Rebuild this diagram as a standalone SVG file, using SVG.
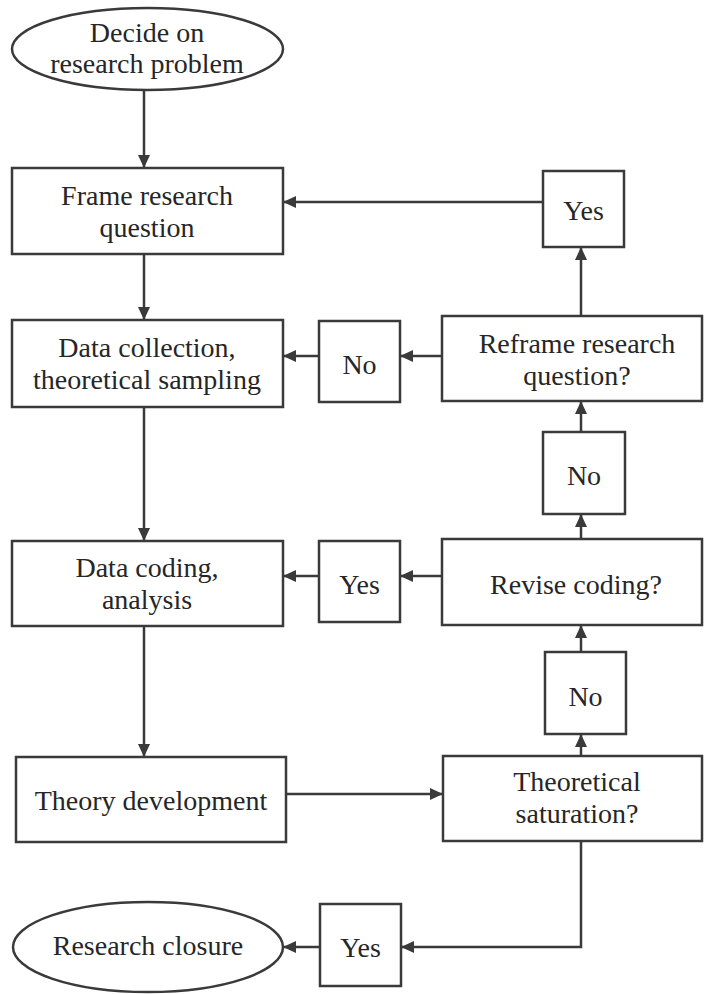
<svg xmlns="http://www.w3.org/2000/svg" width="704" height="994" viewBox="0 0 704 994">
<defs>
<style>
.n{fill:#fff;stroke:#3a3a3a;stroke-width:2.5}
.t{font-family:"Liberation Serif","Times New Roman",serif;font-size:28px;fill:#262626;text-anchor:middle}
.c{fill:none;stroke:#3a3a3a;stroke-width:2.5;marker-end:url(#a)}
</style>
<marker id="a" markerUnits="userSpaceOnUse" markerWidth="14" markerHeight="12" refX="13" refY="6" orient="auto">
<path d="M0,0 L13,6 L0,12 Z" fill="#3a3a3a"/>
</marker>
</defs>
<rect width="704" height="994" fill="#fff"/>
<g id="connectors">
<line class="c" x1="144" y1="90" x2="144" y2="168"/>
<line class="c" x1="543" y1="202" x2="283" y2="202"/>
<line class="c" x1="144" y1="254" x2="144" y2="320"/>
<line class="c" x1="581" y1="316" x2="581" y2="247"/>
<line class="c" x1="442" y1="356" x2="400" y2="356"/>
<line class="c" x1="319" y1="356" x2="283" y2="356"/>
<line class="c" x1="581" y1="432" x2="581" y2="401"/>
<line class="c" x1="144" y1="407" x2="144" y2="541"/>
<line class="c" x1="581" y1="539" x2="581" y2="514"/>
<line class="c" x1="442" y1="576" x2="400" y2="576"/>
<line class="c" x1="319" y1="576" x2="283" y2="576"/>
<line class="c" x1="581" y1="652" x2="581" y2="625"/>
<line class="c" x1="144" y1="626" x2="144" y2="757"/>
<line class="c" x1="286" y1="794" x2="443" y2="794"/>
<line class="c" x1="581" y1="756" x2="581" y2="734"/>
<path class="c" d="M581,841 V947 H401"/>
<line class="c" x1="320" y1="947" x2="283" y2="947"/>
</g>
<g id="decide">
<ellipse class="n" cx="147.5" cy="49" rx="135.5" ry="41"/>
<text class="t" x="147" y="42">Decide on</text>
<text class="t" x="147" y="73">research problem</text>
</g>
<g id="frame">
<rect class="n" x="12" y="168" width="271" height="86"/>
<text class="t" x="147" y="205">Frame research</text>
<text class="t" x="147" y="237">question</text>
</g>
<g id="yes-reframe">
<rect class="n" x="543" y="171" width="81" height="76"/>
<text class="t" x="583.5" y="220">Yes</text>
</g>
<g id="collection">
<rect class="n" x="12" y="320" width="271" height="87"/>
<text class="t" x="147" y="357">Data collection,</text>
<text class="t" x="147" y="389">theoretical sampling</text>
</g>
<g id="no-reframe">
<rect class="n" x="319" y="321" width="81" height="81"/>
<text class="t" x="359.5" y="374">No</text>
</g>
<g id="reframe">
<rect class="n" x="442" y="316" width="260" height="85"/>
<text class="t" x="577" y="353">Reframe research</text>
<text class="t" x="577" y="385">question?</text>
</g>
<g id="no-revise">
<rect class="n" x="543" y="432" width="82" height="82"/>
<text class="t" x="584" y="485">No</text>
</g>
<g id="coding">
<rect class="n" x="12" y="541" width="271" height="85"/>
<text class="t" x="147" y="577">Data coding,</text>
<text class="t" x="147" y="609">analysis</text>
</g>
<g id="yes-revise">
<rect class="n" x="319" y="541" width="81" height="81"/>
<text class="t" x="359.5" y="594">Yes</text>
</g>
<g id="revise">
<rect class="n" x="442" y="539" width="260" height="86"/>
<text class="t" x="576" y="594">Revise coding?</text>
</g>
<g id="no-saturation">
<rect class="n" x="545" y="652" width="81" height="82"/>
<text class="t" x="585.5" y="706">No</text>
</g>
<g id="theory">
<rect class="n" x="16" y="757" width="270" height="85"/>
<text class="t" x="151" y="810">Theory development</text>
</g>
<g id="saturation">
<rect class="n" x="443" y="756" width="259" height="85"/>
<text class="t" x="577" y="791">Theoretical</text>
<text class="t" x="577" y="823">saturation?</text>
</g>
<g id="yes-saturation">
<rect class="n" x="320" y="904" width="81" height="82"/>
<text class="t" x="360.5" y="957">Yes</text>
</g>
<g id="closure">
<ellipse class="n" cx="148" cy="947" rx="135" ry="45"/>
<text class="t" x="148" y="955">Research closure</text>
</g>
</svg>
